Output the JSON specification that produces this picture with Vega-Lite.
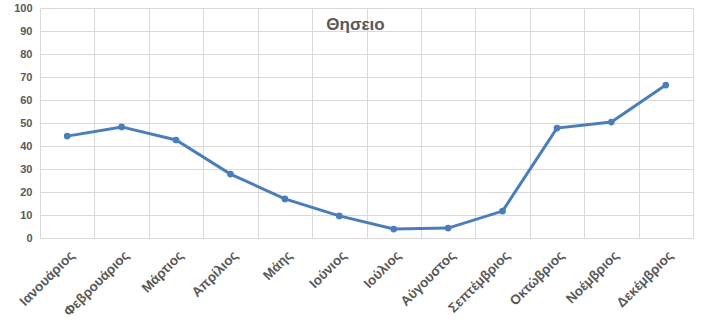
{
  "$schema": "https://vega.github.io/schema/vega-lite/v6.json",
  "autosize": {"type": "none"},
  "width": 653,
  "height": 230,
  "padding": {"left": 40, "top": 8, "right": 15, "bottom": 87},
  "background": "white",
  "title": {
    "text": "Θησειο",
    "orient": "top",
    "anchor": "middle",
    "offset": -32,
    "dx": -11,
    "font": "Liberation Sans",
    "fontSize": 17,
    "fontWeight": "bold",
    "color": "#595959"
  },
  "data": {
    "values": [
      {"month": "Ιανουάριος", "value": 44.3},
      {"month": "Φεβρουάριος", "value": 48.3},
      {"month": "Μάρτιος", "value": 42.6},
      {"month": "Απρίλιος", "value": 27.8},
      {"month": "Μάης", "value": 17.0},
      {"month": "Ιούνιος", "value": 9.6},
      {"month": "Ιούλιος", "value": 3.9},
      {"month": "Αύγουστος", "value": 4.3},
      {"month": "Σεπτέμβριος", "value": 11.7},
      {"month": "Οκτώβριος", "value": 47.8},
      {"month": "Νοέμβριος", "value": 50.4},
      {"month": "Δεκέμβριος", "value": 66.5}
    ]
  },
  "config": {
    "view": {"stroke": null},
    "axis": {
      "labelFont": "Liberation Sans",
      "labelColor": "#595959",
      "gridColor": "#d9d9d9",
      "gridWidth": 1,
      "domainColor": "#d9d9d9",
      "ticks": false,
      "title": null
    }
  },
  "mark": {"type": "line", "color": "#4a7ebb", "strokeWidth": 3, "point": {"filled": true, "size": 45, "color": "#4a7ebb"}},
  "encoding": {
    "x": {
      "field": "month",
      "type": "nominal",
      "sort": null,
      "bandPosition": 0.5,
      "scale": {"type": "band", "paddingInner": 0, "paddingOuter": 0},
      "axis": {
        "grid": true,
        "tickBand": "extent",
        "bandPosition": 0,
        "labelAngle": -45,
        "labelAlign": "right",
        "labelBaseline": "top",
        "labelFontSize": 13.5,
        "labelFontWeight": "bold",
        "labelPadding": 10,
        "domain": true
      }
    },
    "y": {
      "field": "value",
      "type": "quantitative",
      "scale": {"domain": [0, 100]},
      "axis": {
        "values": [0, 10, 20, 30, 40, 50, 60, 70, 80, 90, 100],
        "labelFontSize": 11,
        "labelFontWeight": "bold",
        "labelPadding": 8,
        "domain": false,
        "grid": true
      }
    }
  }
}
